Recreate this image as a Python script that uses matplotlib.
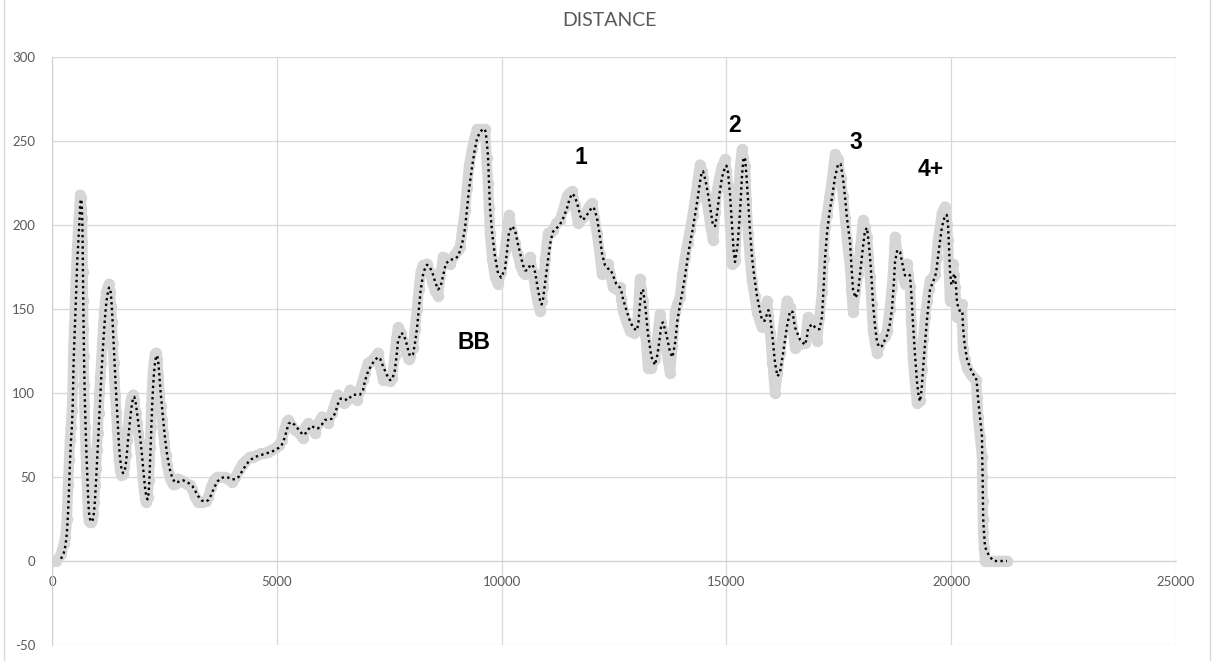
import matplotlib
matplotlib.use("Agg")
import matplotlib.pyplot as plt
from matplotlib.patches import Rectangle
import numpy as np

plt.rcParams["axes.unicode_minus"] = False

title = "DISTANCE"
x_ticks = [0, 5000, 10000, 15000, 20000, 25000]
y_ticks = [-50, 0, 50, 100, 150, 200, 250, 300]

labels = ["BB", "1", "2", "3", "4+"]
label_x = [9386, 11766, 15191, 17883, 19551]
label_y = [130, 240, 259.5, 249, 233]

pts = [
(0,0),(100,0),(200,4),(260,10),(300,14),(330,25),(356,45),(380,60),(400,72),(420,80),(445,90),(460,105),(470,120),(480,130),(495,140),(512,155),(530,168),(545,178),(560,187),(580,196),(600,205),(615,212),(625,218),(640,216),(655,210),(665,204),(675,190),(682,172),(688,155),(695,138),(703,122),(712,105),(722,92),(734,80),(748,66),(762,55),(778,45),(792,36),(806,28),(820,24),(845,23),(870,23),(895,25),(915,28),(935,35),(955,45),(975,55),(995,66),(1015,76),(1035,88),(1055,100),(1075,110),(1095,118),(1115,128),(1135,138),(1160,148),(1185,155),(1210,160),(1240,163),(1268,165),(1290,160),(1310,152),(1330,142),(1350,130),(1370,118),(1390,108),(1410,98),(1430,88),(1450,78),(1470,68),(1490,60),(1515,54),(1545,51),(1580,52),(1610,56),(1640,63),(1665,72),(1690,80),(1720,88),(1750,95),(1780,98),(1805,99),(1830,96),(1860,88),(1890,82),(1920,76),(1950,70),(1975,64),(2000,56),(2025,48),(2050,42),(2075,37),(2100,35),(2125,38),(2150,48),(2165,58),(2180,68),(2195,80),(2210,92),(2225,102),(2245,112),(2265,118),(2290,123),(2315,124),(2340,120),(2365,110),(2390,100),(2415,92),(2445,84),(2475,76),(2500,70),(2530,63),(2560,57),(2600,52),(2640,48),(2690,46),(2740,46),(2800,49),(2860,48),(2920,47),(3000,46),(3060,45),(3120,43),(3180,38),(3250,35),(3330,35),(3420,36),(3480,38),(3540,44),(3600,48),(3680,50),(3760,50),(3840,50),(3920,49),(4000,47),(4080,50),(4160,54),(4240,58),(4320,60),(4400,62),(4480,62),(4560,63),(4640,64),(4720,64),(4800,65),(4880,66),(4960,67),(5040,69),(5115,72),(5170,78),(5220,83),(5260,84),(5320,81),(5400,78),(5470,77),(5530,75),(5583,73),(5640,80),(5700,82),(5780,79),(5850,76),(5920,82),(6005,86),(6070,84),(6139,82),(6220,88),(6300,94),(6361,99),(6420,97),(6500,94),(6561,96),(6628,102),(6700,99),(6784,96),(6850,102),(6920,108),(6962,112),(7028,118),(7100,119),(7170,121),(7251,124),(7300,116),(7362,108),(7450,108),(7520,107),(7562,109),(7620,122),(7660,132),(7696,139),(7760,136),(7820,130),(7880,124),(7930,120),(7963,122),(8029,127),(8070,138),(8118,150),(8160,162),(8200,172),(8250,176),(8300,176),(8341,177),(8400,172),(8460,166),(8520,161),(8585,158),(8640,170),(8696,181),(8760,180),(8852,177),(8950,182),(9030,185),(9075,187),(9130,198),(9186,209),(9230,222),(9280,236),(9342,245),(9400,252),(9453,257),(9520,257),(9580,257),(9631,257),(9665,240),(9698,225),(9720,210),(9742,195),(9790,180),(9853,169),(9920,165),(9990,172),(10076,185),(10120,196),(10165,206),(10230,196),(10298,189),(10360,182),(10420,176),(10470,172),(10520,171),(10575,176),(10632,181),(10690,172),(10743,163),(10800,154),(10854,149),(10890,155),(10921,163),(10970,180),(11032,195),(11090,196),(11143,197),(11220,201),(11299,203),(11380,210),(11454,217),(11510,219),(11566,220),(11630,212),(11699,201),(11750,203),(11810,205),(11880,208),(11950,211),(12010,213),(12060,205),(12121,195),(12180,183),(12233,171),(12300,174),(12367,177),(12420,170),(12478,163),(12550,162),(12633,163),(12665,156),(12700,149),(12780,142),(12856,137),(12940,136),(13012,139),(13045,152),(13078,168),(13110,162),(13145,155),(13200,135),(13256,115),(13330,115),(13412,120),(13470,135),(13523,147),(13555,142),(13590,137),(13670,124),(13746,112),(13800,128),(13857,148),(13910,153),(13968,157),(14020,170),(14079,181),(14135,189),(14190,197),(14250,206),(14302,215),(14360,226),(14413,236),(14450,232),(14480,228),(14540,218),(14591,209),(14650,199),(14702,191),(14750,208),(14791,221),(14850,229),(14902,235),(14969,239),(15000,232),(15036,223),(15080,200),(15125,177),(15160,178),(15191,179),(15250,208),(15302,235),(15347,245),(15380,240),(15414,235),(15445,215),(15480,195),(15525,180),(15569,167),(15625,158),(15681,148),(15740,143),(15792,139),(15850,147),(15903,155),(15935,146),(15970,136),(16025,118),(16081,100),(16135,112),(16192,124),(16270,140),(16348,155),(16415,151),(16470,139),(16526,127),(16640,129),(16748,130),(16790,140),(16815,145),(16900,138),(17015,131),(17070,145),(17126,160),(17160,180),(17193,199),(17237,206),(17290,216),(17349,227),(17415,242),(17482,239),(17540,228),(17593,217),(17640,204),(17682,191),(17749,175),(17780,162),(17816,148),(17870,160),(17927,171),(17980,187),(18038,203),(18080,199),(18127,193),(18160,181),(18194,169),(18230,153),(18261,137),(18305,130),(18350,124),(18400,128),(18461,132),(18520,134),(18572,137),(18630,150),(18683,163),(18720,178),(18750,193),(18800,184),(18861,175),(18920,170),(18972,165),(19017,177),(19050,170),(19083,163),(19115,142),(19150,120),(19195,106),(19239,94),(19275,95),(19306,96),(19340,114),(19373,132),(19420,145),(19462,155),(19500,162),(19528,167),(19590,169),(19640,171),(19675,181),(19706,191),(19750,199),(19795,207),(19862,211),(19900,200),(19929,191),(19950,172),(19973,155),(20005,166),(20040,177),(20060,170),(20085,163),(20110,153),(20129,145),(20185,149),(20240,153),(20250,140),(20262,126),(20300,120),(20351,115),(20410,112),(20462,110),(20510,109),(20552,108),(20575,97),(20596,86),(20640,74),(20685,62),(20690,50),(20700,36),(20705,25),(20710,17),(20730,8),(20752,0),(20850,0),(20950,0),(21050,0),(21150,0),(21240,0),
]
dist_x = [p[0] for p in pts]
dist_y = [p[1] for p in pts]

# trailing moving average (trendline), period 3
yy = np.array(dist_y, dtype=float)
ma = np.convolve(yy, np.ones(3) / 3, mode="valid")
ma_x = np.array(dist_x[2:], dtype=float)

fig = plt.figure(figsize=(12.14, 6.61), dpi=100)
ax = fig.add_axes([52/1214, 1-645/661, (1176-52)/1214, (645-57)/661])

grey = "#d6d6d6"
ax.plot(dist_x, dist_y, color=grey, lw=7.5, solid_capstyle="round", solid_joinstyle="round", zorder=2)
ax.plot(dist_x, dist_y, "o", color=grey, ms=7.2, mec=grey, zorder=3)
ax.plot(ma_x, ma, color="black", lw=1.7, linestyle=(0, (1, 1.4)), dash_capstyle="butt", zorder=4)

ax.set_xlim(0, 25000)
ax.set_ylim(-50, 300)
ax.set_xticks(x_ticks)
ax.set_yticks(y_ticks)
ax.grid(True, color="#d9d9d9", lw=0.9)
ax.set_axisbelow(True)
for s in ["top", "right"]:
    ax.spines[s].set_visible(False)
ax.spines["bottom"].set_position(("data", 0))
ax.spines["bottom"].set_color("#d0d0d0")
ax.spines["left"].set_color("#d0d0d0")
ax.tick_params(length=0, labelcolor="#595959", labelsize=9.5)
ax.tick_params(axis="y", pad=12)
ax.tick_params(axis="x", pad=11)
for t in ax.get_xticklabels() + ax.get_yticklabels():
    t.set_fontfamily("Lato")

for lab, lx, ly in zip(labels, label_x, label_y):
    ax.text(lx, ly, lab, ha="center", va="center", fontsize=16.5,
            fontweight="bold", family="Liberation Sans", color="black", zorder=5)

fig.text(609/1214, 1-20/661, title, ha="center", va="center", fontsize=14,
         family="Lato", color="#595959")

fig.patches.append(Rectangle((4/1214, -0.01), (1210-4)/1214, 1.02, transform=fig.transFigure,
                             fill=False, edgecolor="#d9d9d9", lw=1))

fig.savefig("out.png", dpi=100)
